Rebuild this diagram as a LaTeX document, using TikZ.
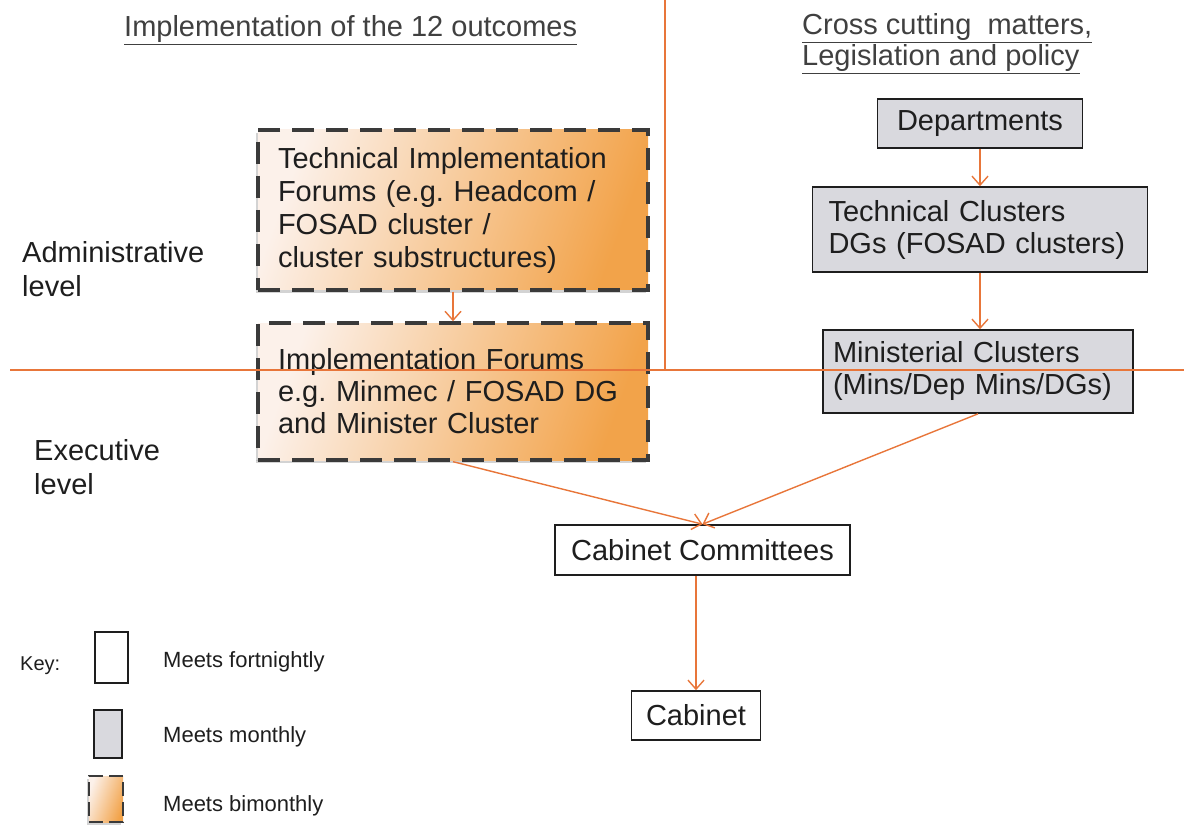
\documentclass[tikz,border=0pt]{standalone}
\usepackage{fontspec}
\setmainfont{Liberation Sans}
\frenchspacing
\usetikzlibrary{arrows.meta,shadows,calc}
\definecolor{lineor}{HTML}{E8763A}
\definecolor{monthly}{HTML}{D9D9DE}
\definecolor{bilight}{HTML}{FCF1EA}
\definecolor{bimid}{HTML}{F8D2AC}
\definecolor{bidark}{HTML}{F2A34A}
\definecolor{txt}{HTML}{1E1E1E}
\definecolor{dashc}{HTML}{3A3A3A}
\begin{document}
\begin{tikzpicture}[x=1pt,y=-1pt,
  every node/.style={text=txt, font=\fontsize{29}{32}\selectfont},
  box/.style={draw=txt, line width=1.6pt, inner sep=0pt},
  fortbox/.style={box, fill=white},
  monbox/.style={box, fill=monthly},
  bibox/.style={draw=dashc, line width=3.4pt, dash pattern=on 22pt off 12pt,
    left color=bilight, middle color=bimid, right color=bidark, shading angle=70, inner sep=0pt,
    drop shadow={shadow xshift=-2pt,shadow yshift=-3pt,opacity=0.35}},
  conn/.style={draw=lineor, line width=1.4pt, -{Straight Barb[length=9pt,width=16pt,line width=1.4pt]}},
  divider/.style={draw=lineor, line width=1.6pt},
  lbl/.style={anchor=base west, inner sep=0pt},
  hdr/.style={lbl, text=txt!85},
  keytxt/.style={lbl, font=\fontsize{22}{26}\selectfont}
]
\useasboundingbox (0,0) rectangle (1184,829);

% headers
\node[hdr] (h1) at (124,37) {\underline{Implementation of the 12 outcomes}};
\node[hdr] (h2a) at (802,35) {\underline{Cross cutting\ \ matters,}};
\node[hdr] (h2b) at (802,66) {\underline{Legislation and policy}};

% level labels
\node[lbl] (adm1) at (22,263) {Administrative};
\node[lbl] (adm2) at (22,297) {level};
\node[lbl] (exe1) at (34,460) {Executive};
\node[lbl] (exe2) at (34,494) {level};

% left column (bimonthly)
\node[bibox, minimum width=390pt, minimum height=160pt, text width=350pt, align=left,
  font=\fontsize{29}{33}\selectfont] (tif) at (453,210)
  {Technical Implementation\\Forums (e.g. Headcom /\\FOSAD cluster /\\cluster substructures)};
\node[bibox, minimum width=390pt, minimum height=137pt, text width=350pt, align=left] (ifm) at (453,391.5)
  {Implementation Forums\\e.g. Minmec / FOSAD DG\\and Minister Cluster};

% right column (monthly)
\node[monbox, minimum width=205pt, minimum height=49pt] (dep) at (980,123.5) {Departments};
\node[monbox, minimum width=335pt, minimum height=85pt, text width=303pt, align=left] (tc) at (980,229.5)
  {Technical Clusters\\DGs (FOSAD clusters)};
\node[monbox, minimum width=310pt, minimum height=83pt, text width=290pt, align=left] (mc) at (978,371.5)
  {Ministerial Clusters\\(Mins/Dep Mins/DGs)};

% bottom (fortnightly)
\node[fortbox, minimum width=295pt, minimum height=50pt] (cc) at (702.5,550) {Cabinet Committees};
\node[fortbox, minimum width=129pt, minimum height=49pt] (cab) at (696,715.5) {Cabinet};

% connectors
\draw[conn] (tif) -- (ifm);
\draw[conn] (dep.south) -- (dep.south |- tc.north);
\draw[conn] (tc.south) -- (tc.south |- mc.north);
\draw[conn] (ifm.south) -- (cc.north);
\draw[conn] (mc.south) -- (cc.north);
\draw[conn] (cab.north |- cc.south) -- (cab.north);

% dividers
\coordinate (hl) at (10,370);
\coordinate (hr) at (1184,370);
\coordinate (vt) at (665,0);
\coordinate (vb) at (665,369);
\draw[divider] (hl) -- (hr);
\draw[divider] (vt) -- (vb);

% key
\node[lbl, font=\fontsize{20}{24}\selectfont] (key) at (20,670) {Key:};
\node[fortbox, minimum width=33pt, minimum height=51pt] (kf) at (111.5,657.5) {};
\node[keytxt] (kft) at (163,667) {Meets fortnightly};
\node[monbox, minimum width=28pt, minimum height=48pt] (km) at (108,734) {};
\node[keytxt] (kmt) at (163,742) {Meets monthly};
\node[bibox, line width=2.4pt, dash pattern=on 14pt off 6pt, minimum width=34pt, minimum height=46pt] (kb) at (106,799) {};
\node[keytxt] (kbt) at (163,811) {Meets bimonthly};
\end{tikzpicture}
\end{document}
